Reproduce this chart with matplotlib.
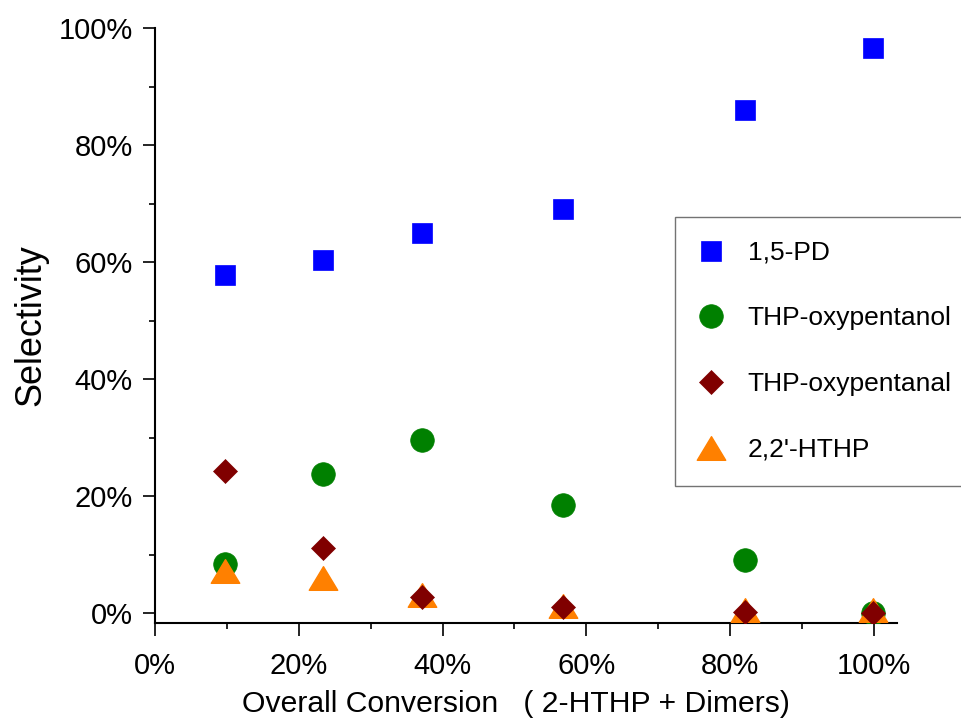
import numpy as np
import matplotlib
matplotlib.use("Agg")
import matplotlib.pyplot as plt
from matplotlib.path import Path
from matplotlib.ticker import PercentFormatter, MultipleLocator

plt.rcParams['font.family'] = ['Liberation Sans', 'DejaVu Sans']

# overall conversion (%), one entry per run
conversion = [9.7, 23.4, 37.2, 56.7, 82.0, 99.8]

# selectivity (%) per product
pd15 = [57.7, 60.3, 65.0, 69.0, 86.0, 96.6]
thp_ol = [8.4, 23.8, 29.6, 18.4, 9.1, 0.0]
thp_al = [24.3, 11.1, 2.8, 1.1, 0.1, 0.0]
hthp = [7.2, 6.0, 3.1, 1.2, 0.6, 0.5]

labels = ['1,5-PD', 'THP-oxypentanol', 'THP-oxypentanal', "2,2'-HTHP"]

# flattened triangle, wider than tall
tri = Path([(-1.0, -0.83), (1.0, -0.83), (0.0, 0.83), (-1.0, -0.83)],
           [Path.MOVETO, Path.LINETO, Path.LINETO, Path.CLOSEPOLY])

fig = plt.figure(figsize=(9.62, 7.23), dpi=100)
ax = fig.add_axes([155/962, 1-623/723, (897-155)/962, (623-28)/723])

ax.plot(conversion, pd15, 's', color='#0000ff', ms=15, mec='#0000ff', mew=0.5,
        label=labels[0], zorder=3)
ax.plot(conversion, thp_ol, 'o', color='#008000', ms=17, mec='#008000', mew=0.5,
        label=labels[1], zorder=3)
ax.plot(conversion, thp_al, 'D', color='#800000', ms=12.5, mec='#800000', mew=0.5,
        label=labels[2], zorder=5)
ax.plot(conversion, hthp, marker=tri, ls='none', color='#ff8000', ms=20.5,
        mec='#ff8000', mew=1, label=labels[3], zorder=4)

ax.set_xlim(0, 103.2)
ax.set_ylim(-1.7, 100)

for side in ('top', 'right'):
    ax.spines[side].set_visible(False)
for side in ('left', 'bottom'):
    ax.spines[side].set_linewidth(1.5)

ax.xaxis.set_major_locator(MultipleLocator(20))
ax.xaxis.set_minor_locator(MultipleLocator(10))
ax.yaxis.set_major_locator(MultipleLocator(20))
ax.yaxis.set_minor_locator(MultipleLocator(10))
ax.xaxis.set_major_formatter(PercentFormatter(xmax=100, decimals=0))
ax.yaxis.set_major_formatter(PercentFormatter(xmax=100, decimals=0))

ax.tick_params(which='major', direction='out', length=9, width=1.2, labelsize=21)
ax.tick_params(which='minor', direction='out', length=4, width=1.2)
ax.tick_params(axis='x', which='major', pad=12)
ax.tick_params(axis='y', which='major', pad=7)

ax.set_ylabel('Selectivity', fontsize=26)
ax.yaxis.set_label_coords(-0.144, 0.5)
ax.set_xlabel('Overall Conversion   ( 2-HTHP + Dimers)', fontsize=21.7)
ax.xaxis.set_label_coords(0.487, -0.112)

leg = ax.legend(loc='upper left', bbox_to_anchor=(675/962, 1-217/723),
                bbox_transform=fig.transFigure, fontsize=19, frameon=True,
                fancybox=False, borderaxespad=0, borderpad=0.9,
                handlelength=0.9, handletextpad=0.95, labelspacing=1.58,
                numpoints=1)
leg.get_frame().set_edgecolor('#505050')
leg.get_frame().set_linewidth(1.0)

fig.savefig('out.png', dpi=100)
